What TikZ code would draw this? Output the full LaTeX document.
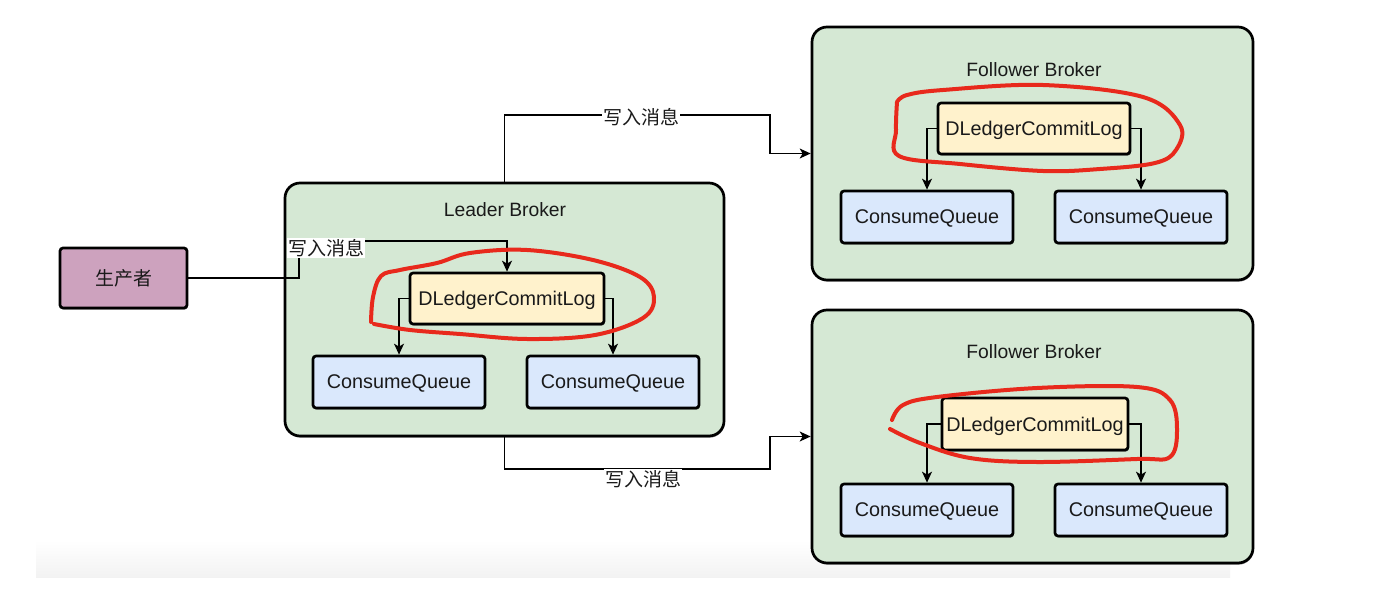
\documentclass[tikz,border=0pt]{standalone}
\usepackage{fontspec}
\setmainfont{Liberation Sans}
\newfontfamily\cjk{Noto Sans CJK SC}
\usetikzlibrary{arrows.meta,shadows}
\definecolor{grn}{HTML}{D5E8D4}
\definecolor{ylw}{HTML}{FFF2CC}
\definecolor{blu}{HTML}{DAE8FC}
\definecolor{prp}{HTML}{CDA2BE}
\definecolor{redpen}{HTML}{E8291C}
\definecolor{txt}{HTML}{1A1A1A}
\tikzset{
  boxbase/.style={draw=black, line width=2.7pt, inner sep=0pt, text=txt,
    font=\fontsize{19.8}{22}\selectfont, text depth=0pt,
    drop shadow={shadow xshift=0.8pt, shadow yshift=-1.6pt, opacity=0.45, fill=black}},
  broker/.style={boxbase, fill=grn, rounded corners=15pt, minimum width=439pt, minimum height=253pt},
  logbox/.style={boxbase, fill=ylw, rounded corners=3pt, minimum height=51pt},
  cqbox/.style={boxbase, fill=blu, rounded corners=3pt, minimum width=172pt, minimum height=52pt},
  prodbox/.style={boxbase, fill=prp, rounded corners=3pt, minimum width=127pt, minimum height=60pt, font=\cjk\fontsize{19}{22}\selectfont},
  title/.style={text=txt, font=\fontsize{19.3}{22}\selectfont, inner sep=0pt},
  conn/.style={draw=black, line width=1.3pt},
  arr/.style={conn, -{Stealth[length=11pt,width=10pt,inset=3pt]}},
  lbl/.style={fill=white, text=txt, inner sep=1pt, font=\cjk\fontsize{19}{22}\selectfont},
  pen/.style={draw=redpen, line width=4pt, line cap=round, line join=round}
}
\begin{document}
\begin{tikzpicture}[x=1pt,y=-1pt]
\useasboundingbox (0,0) rectangle (1384,602);
\fill[white] (0,0) rectangle (1384,602);
\shade[top color=white, bottom color=black!5] (36,540) rectangle (1230,577);

% brokers
\node[broker] (leader) at (504.5,309.5) {};
\node[broker, minimum width=441pt] (f1) at (1032.5,153.5) {};
\node[broker, minimum width=441pt] (f2) at (1032.5,436.5) {};
\node[title] (lt) at (505,210) {Leader Broker};
\node[title] (f1t) at (1034,70) {Follower Broker};
\node[title] (f2t) at (1034,352) {Follower Broker};

% producer
\node[prodbox] (prod) at (123.5,278) {生产者};

% leader content
\node[logbox, minimum width=194pt] (ldl) at (507,298.5) {DLedgerCommitLog};
\node[cqbox] (lcq1) at (399,382) {ConsumeQueue};
\node[cqbox] (lcq2) at (613,382) {ConsumeQueue};

% follower 1 content
\node[logbox, minimum width=192pt] (f1dl) at (1034,128.5) {DLedgerCommitLog};
\node[cqbox] (f1cq1) at (927,217) {ConsumeQueue};
\node[cqbox] (f1cq2) at (1141,217) {ConsumeQueue};

% follower 2 content
\node[logbox, minimum width=186pt, minimum height=52pt] (f2dl) at (1035,424) {DLedgerCommitLog};
\node[cqbox] (f2cq1) at (927,510) {ConsumeQueue};
\node[cqbox] (f2cq2) at (1141,510) {ConsumeQueue};

% inner arrows
\draw[arr] (ldl.west) -| (lcq1.north);
\draw[arr] (ldl.east) -| (lcq2.north);
\draw[arr] (f1dl.west) -| (f1cq1.north);
\draw[arr] (f1dl.east) -| (f1cq2.north);
\draw[arr] (f2dl.west) -| (f2cq1.north);
\draw[arr] (f2dl.east) -| (f2cq2.north);

% producer -> leader log
\coordinate (c3) at (299,241);
\draw[arr] (prod.east) -| (c3) -| (ldl.north);
\node[lbl] (l3) at (326,248) {写入消息};

% leader -> followers
\coordinate (c1) at (770,115);
\coordinate (c2) at (770,469);
\draw[arr] (leader.north) |- (c1) |- (f1.west);
\node[lbl] (l1) at (641,117) {写入消息};
\draw[arr] (leader.south) |- (c2) |- (f2.west);
\node[lbl] (l2) at (643,479) {写入消息};

% red pen loops
\draw[pen] plot[smooth, tension=0.6] coordinates {
  (371,322) (373,297) (381,276) (400,270) (437,263) (470,253) (527,250)
  (593,260) (640,277) (654,297) (643,318) (595,335) (527,339) (460,334)
  (410,330) (374,324)};
\draw[pen] plot[smooth, tension=0.6] coordinates {
  (897,102) (907,95) (943,90) (1043,85) (1143,97) (1180,125) (1176,150)
  (1155,163) (1100,169) (1043,171) (960,164) (899,156) (896,130) (897,102)};
\draw[pen] plot[smooth, tension=0.6] coordinates {
  (892,420) (903,405) (937,397) (1037,388) (1137,387) (1170,400) (1177,430)
  (1170,457) (1137,459) (1037,462) (970,458) (920,443) (890,429)};
\end{tikzpicture}
\end{document}
